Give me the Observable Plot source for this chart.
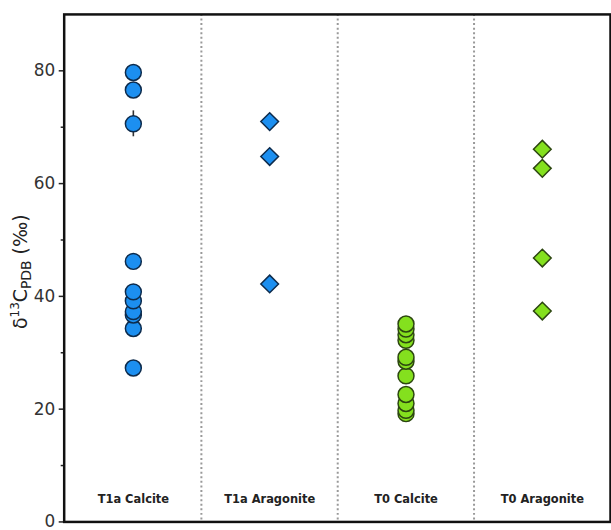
<!DOCTYPE html>
<html><head><meta charset="utf-8">
<script src="https://cdn.jsdelivr.net/npm/d3@7"></script>
<script src="https://cdn.jsdelivr.net/npm/@observablehq/plot@0.6"></script>
<style>html,body{margin:0;padding:0;overflow:hidden;background:#fff}</style>
</head><body><div id="chart"></div>
<script>
const categories = ["T1a Calcite", "T1a Aragonite", "T0 Calcite", "T0 Aragonite"];
const t1aCalcite = [27.3, 34.3, 36.7, 37.3, 39.2, 40.8, 46.2, 70.6, 76.6, 79.7];
const t1aCalciteErr = [1.0, 0, 0, 0, 0, 0, 1.2, 2.3, 0.8, 0];
const t1aAragonite = [42.2, 64.8, 71.0];
const t0Calcite = [19.2, 19.8, 21.0, 22.6, 25.9, 28.5, 29.2, 32.2, 33.2, 34.2, 35.1];
const t0Aragonite = [37.4, 46.8, 62.7, 66.1];
const yTicks = [0, 20, 40, 60, 80];
const yMinorTicks = [10, 30, 50, 70];

const blueFill = "#1c8ff0", blueStroke = "#0d2b4c";
const greenFill = "#84e01e", greenStroke = "#2c4610";

const rowsOf = (cat, vals, errs) => vals.map((v, i) => ({cat, value: v, err: errs ? errs[i] : 0}));
const t1aCalRows = rowsOf(categories[0], t1aCalcite, t1aCalciteErr);
const t1aAraRows = rowsOf(categories[1], t1aAragonite);
const t0CalRows = rowsOf(categories[2], t0Calcite);
const t0AraRows = rowsOf(categories[3], t0Aragonite);
const errRows = t1aCalRows.filter(d => d.err > 0);

const W = 614, H = 530, mL = 64, mR = 1, mT = 14, mB = 6;
const bw = (W - mL - mR) / categories.length;

const plot = Plot.plot({
  width: W, height: H,
  marginLeft: mL, marginRight: mR, marginTop: mT, marginBottom: mB,
  x: {type: "band", domain: categories, padding: 0, label: null},
  y: {domain: [0, 90], label: null},
  style: {fontFamily: "'DejaVu Sans', sans-serif", background: "white", color: "#222"},
  marks: [
    Plot.ruleX(categories.slice(1), {x: d => d, dx: -bw / 2, stroke: "#999", strokeWidth: 2, strokeDasharray: "2,2.6"}),
    Plot.axisX({anchor: "bottom", tickSize: 0, dy: -36, fontWeight: "bold", fontSize: 11.5, fill: "#222"}),
    Plot.axisY(yTicks, {tickSize: 5, tickPadding: 4, fontSize: 17, fill: "#333", strokeWidth: 1.5}),
    Plot.axisY(yMinorTicks, {tickSize: 3, tickFormat: () => "", strokeWidth: 1.5}),
    Plot.ruleX(errRows, {x: "cat", y1: d => d.value - d.err, y2: d => d.value + d.err, stroke: "#333", strokeWidth: 1.6}),
    Plot.dot(t1aCalRows, {x: "cat", y: "value", r: 8, symbol: "circle", fill: blueFill, stroke: blueStroke, strokeWidth: 1.5}),
    Plot.dot(t1aAraRows, {x: "cat", y: "value", r: 8, symbol: "diamond2", fill: blueFill, stroke: blueStroke, strokeWidth: 1.5}),
    Plot.dot(t0CalRows, {x: "cat", y: "value", r: 8, symbol: "circle", fill: greenFill, stroke: greenStroke, strokeWidth: 1.5}),
    Plot.dot(t0AraRows, {x: "cat", y: "value", r: 8, symbol: "diamond2", fill: greenFill, stroke: greenStroke, strokeWidth: 1.5}),
    Plot.frame({stroke: "#111", strokeWidth: 2.5})
  ]
});

// y-axis title with superscript and subscript
const svg = d3.select(plot);
const t = svg.append("text")
  .attr("transform", `translate(27,${(mT + H - mB) / 2 + 4}) rotate(-90)`)
  .attr("text-anchor", "middle")
  .attr("font-family", "'DejaVu Sans', sans-serif")
  .attr("font-size", 19)
  .attr("fill", "#222");
t.append("tspan").text("δ");
t.append("tspan").attr("dy", -8).attr("font-size", 12).text("13");
t.append("tspan").attr("dy", 8).text("C");
t.append("tspan").attr("dy", 4).attr("font-size", 14).text("PDB");
t.append("tspan").attr("dy", -4).text(" (‰)");

document.getElementById("chart").append(plot);
</script>
</body></html>
